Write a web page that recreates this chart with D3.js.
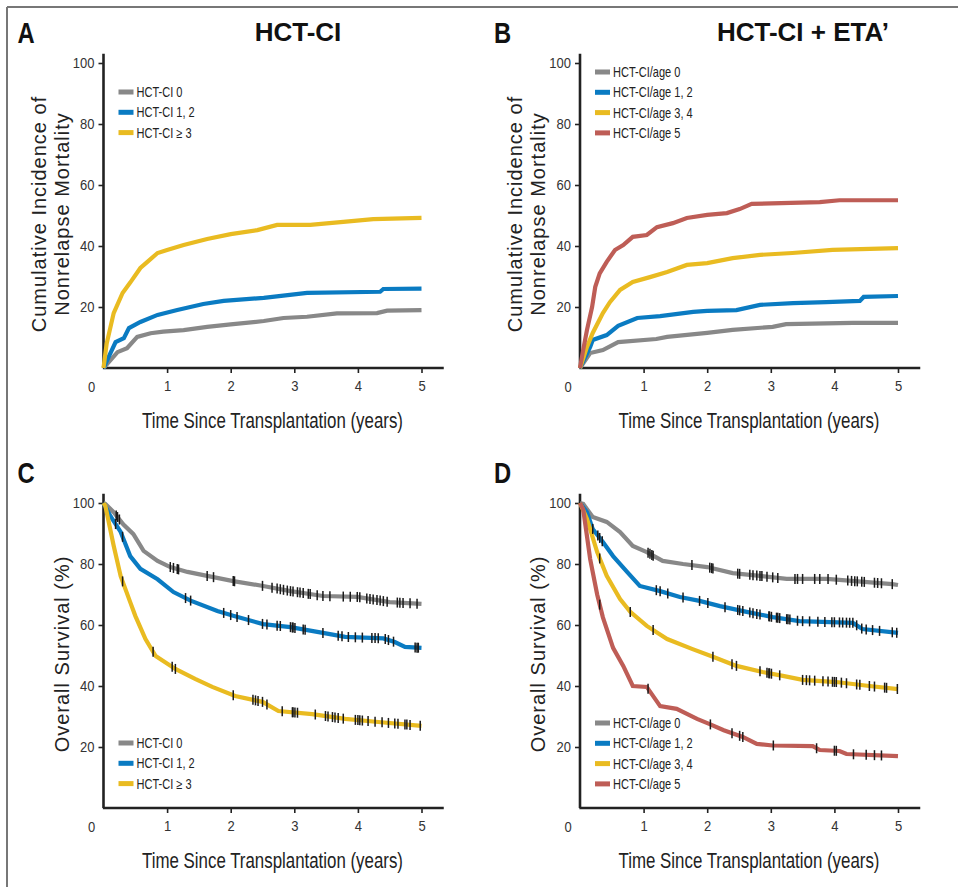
<!DOCTYPE html>
<html>
<head>
<meta charset="utf-8">
<script src="https://cdn.jsdelivr.net/npm/d3@7"></script>
<style>
body { margin: 0; background: #fff; }
svg { display: block; }
text { font-family: "Liberation Sans", Arial, Helvetica, sans-serif; }
</style>
</head>
<body>
<svg id="drawing_region"></svg>
<script>
// ---- data ----
const xTicks = [1, 2, 3, 4, 5];
const yTicks = [20, 40, 60, 80, 100];
const labelsCI = ["HCT-CI 0", "HCT-CI 1, 2", "HCT-CI \u2265 3"];
const labelsAge = ["HCT-CI/age 0", "HCT-CI/age 1, 2", "HCT-CI/age 3, 4", "HCT-CI/age 5"];
const colors = ["#888888", "#0a7bc2", "#e9bb21", "#be5d56"];

// [years, %] cumulative incidence of NRM, panel A
const nrmA0 = [[0,0],[0.11,2.6],[0.22,5.2],[0.37,6.5],[0.53,10.2],[0.74,11.4],[0.94,11.9],[1.26,12.4],[1.63,13.5],[2.0,14.3],[2.52,15.4],[2.83,16.4],[3.2,16.8],[3.67,17.9],[4.3,18.0],[4.46,18.8],[5.0,19.0]];
const nrmA12 = [[0,0],[0.08,3.6],[0.19,8.5],[0.32,9.8],[0.40,13.1],[0.58,15.1],[0.85,17.4],[1.16,19],[1.57,21],[1.89,22],[2.52,23],[2.93,24],[3.2,24.6],[4.35,25],[4.4,25.9],[5.0,26.0]];
const nrmA3 = [[0,0],[0.05,8],[0.16,18],[0.30,24.6],[0.42,28],[0.58,32.8],[0.69,34.8],[0.85,37.7],[1.0,38.7],[1.26,40.3],[1.63,42.3],[2.0,43.9],[2.42,45.2],[2.73,46.9],[3.25,46.9],[3.77,47.9],[4.24,48.8],[5.0,49.2]];

// panel B
const nrmB0 = [[0,0],[0.16,4.9],[0.36,5.9],[0.6,8.5],[1.2,9.5],[1.37,10.2],[2.0,11.5],[2.4,12.5],[3.03,13.5],[3.24,14.4],[4.29,14.8],[5.0,14.8]];
const nrmB12 = [[0,0],[0.16,6.9],[0.2,9.2],[0.42,10.8],[0.6,13.8],[0.9,16.4],[1.26,17.0],[1.78,18.4],[2.0,18.7],[2.46,19.0],[2.83,20.7],[3.35,21.3],[3.87,21.6],[4.4,22],[4.46,23.3],[5.0,23.6]];
const nrmB34 = [[0,0],[0.11,6.9],[0.2,11.5],[0.36,18],[0.47,21.6],[0.63,25.6],[0.83,28.2],[1.1,29.8],[1.37,31.5],[1.68,33.8],[2.0,34.4],[2.4,36],[2.83,37.1],[3.34,37.7],[3.97,38.7],[5.0,39.3]];
const nrmB5 = [[0,0],[0.05,5.9],[0.11,12.5],[0.19,20],[0.24,26.6],[0.31,31],[0.42,34.8],[0.55,38.7],[0.68,40.3],[0.83,43],[1.05,43.6],[1.21,46.2],[1.46,47.5],[1.68,49.2],[2.0,50.2],[2.31,50.8],[2.51,52.1],[2.7,53.8],[3.77,54.4],[4.08,55],[5.0,55]];

// overall survival, panel C
const osC0 = [[0,100],[0.03,99.7],[0.16,97],[0.31,93],[0.47,89.8],[0.63,84.3],[0.85,81],[1.05,79],[1.32,77.4],[1.63,76.1],[2.04,74.4],[2.51,72.8],[2.94,71.1],[3.45,69.5],[3.99,69.2],[4.5,67.5],[5.0,66.9]];
const osC12 = [[0,100],[0.11,95.7],[0.27,90.5],[0.42,82.6],[0.58,78.4],[0.85,75],[1.1,70.8],[1.37,68],[1.79,64.6],[2.04,63],[2.51,60.3],[2.94,59.3],[3.45,57.4],[3.8,56.1],[4.4,55.6],[4.58,54.4],[4.74,52.8],[5.0,52.5]];
const osC3 = [[0,100],[0.03,99],[0.16,86],[0.27,76],[0.42,67.5],[0.5,63],[0.66,55.4],[0.82,49.8],[1.13,45.6],[1.44,42.3],[1.71,39.7],[2.07,36.7],[2.5,34.8],[2.75,31.8],[3.28,30.8],[3.8,29.2],[4.32,28.2],[5.0,26.9]];

// panel D
const osD0 = [[0,100],[0.05,99.7],[0.2,95.4],[0.42,93.8],[0.63,90.5],[0.83,85.9],[1.05,83.9],[1.3,81],[1.62,80],[2.0,79],[2.4,77],[2.83,76.1],[3.25,75.1],[3.88,75.1],[4.91,73.4],[5.0,73.1]];
const osD12 = [[0,100],[0.11,97],[0.2,91.5],[0.36,87.2],[0.52,82.6],[0.74,77.4],[0.94,72.8],[1.26,71.1],[1.57,69.2],[1.88,67.9],[2.2,66.2],[2.62,64.3],[3.03,62.6],[3.45,61.3],[4.29,60.7],[4.44,58.7],[5.0,57.4]];
const osD34 = [[0,100],[0.11,94.8],[0.27,83.9],[0.42,76.1],[0.63,68.5],[0.79,64.3],[1.05,59.7],[1.37,55.4],[1.77,52.1],[2.09,49.6],[2.46,46.6],[2.87,44.6],[3.19,43.3],[3.5,42],[4.03,41.3],[4.55,40],[5.0,39]];
const osD5 = [[0,100],[0.05,98],[0.16,81.6],[0.27,70],[0.36,62.5],[0.52,52.5],[0.68,46.6],[0.83,40],[1.05,39.7],[1.26,33.4],[1.52,32.5],[1.84,29.2],[2.04,27.5],[2.26,25.5],[2.56,23.3],[2.78,21],[3.03,20.5],[3.66,20.3],[3.77,19],[4.08,18.7],[4.19,17.7],[5.0,17]];

// censoring times (years)
const censC0 = [0.2,0.22,0.25,1.05,1.1,1.16,1.18,1.63,1.73,2.04,2.06,2.5,2.65,2.73,2.78,2.83,2.89,2.94,2.98,3.05,3.09,3.14,3.22,3.25,3.36,3.45,3.56,3.77,3.88,3.99,4.03,4.14,4.19,4.24,4.3,4.35,4.4,4.46,4.62,4.66,4.71,4.82,4.93];
const censC12 = [0.19,0.3,1.29,1.37,1.89,2.0,2.1,2.28,2.5,2.57,2.73,2.78,2.94,2.97,2.98,3.01,3.14,3.17,3.45,3.69,3.75,3.85,3.96,4.07,4.22,4.27,4.32,4.43,4.48,4.56,4.9,4.93,4.95];
const censC3 = [0.3,0.78,1.08,1.13,2.04,2.35,2.39,2.43,2.5,2.57,2.81,2.97,2.98,3.01,3.05,3.33,3.49,3.53,3.6,3.64,3.69,3.77,3.96,4.0,4.03,4.07,4.16,4.27,4.38,4.48,4.58,4.63,4.74,4.77,4.82,4.98];
const censD0 = [1.07,1.1,1.13,1.15,1.76,2.04,2.07,2.09,2.48,2.51,2.67,2.72,2.78,2.83,2.86,2.94,3.03,3.11,3.38,3.42,3.5,3.69,3.77,3.9,4.03,4.21,4.27,4.32,4.36,4.43,4.47,4.63,4.68,4.74,4.91];
const censD12 = [0.2,0.28,0.31,0.35,1.2,1.26,1.38,1.62,1.88,2.01,2.28,2.48,2.51,2.56,2.67,2.72,2.78,2.83,2.97,2.98,3.01,3.09,3.11,3.14,3.25,3.27,3.3,3.42,3.5,3.61,3.74,3.85,3.96,4.0,4.08,4.13,4.19,4.24,4.29,4.35,4.43,4.5,4.6,4.71,4.91,4.98];
const censD34 = [0.31,0.79,1.15,2.09,2.39,2.46,2.83,2.94,2.97,2.98,3.01,3.14,3.5,3.56,3.61,3.69,3.82,3.9,3.97,4.0,4.03,4.11,4.19,4.35,4.4,4.55,4.63,4.79,4.82,4.99];
const censD5 = [0.31,1.07,2.05,2.39,2.51,2.56,3.04,3.72,4.0,4.03,4.3,4.5,4.63,4.74];

// no condensed face installed, so squeeze Liberation Sans horizontally
const NARROW = 0.78;

const svg = d3.select('#drawing_region')
    .attr('width', 958)
    .attr('height', 887);

// frame (top + left edges only)
svg.append('line').attr('x1', 7).attr('x2', 958).attr('y1', 7).attr('y2', 7)
    .attr('stroke', '#777').attr('stroke-width', 2);
svg.append('line').attr('x1', 7).attr('x2', 7).attr('y1', 7).attr('y2', 887)
    .attr('stroke', '#777').attr('stroke-width', 2);

function narrowText(parent, x, y, scale) {
    return parent.append('text')
        .attr('transform', `translate(${x}, ${y}) scale(${scale || NARROW}, 1)`);
}

class KMPanel {

    constructor( config, series, censors ) {
        this.config = config;
        this.series = series;
        this.censors = censors || [];
        this.init();
    }

    init() {
        let self = this;
        const c = self.config;

        self.chart = svg.append('g');

        self.xscale = d3.scaleLinear()
            .domain([0, 5])
            .range([c.left, c.left + 318]);

        self.yscale = d3.scaleLinear()
            .domain([0, 100])
            .range([c.bottom, c.bottom - 305]);

        self.line = d3.line()
            .x( d => self.xscale(d[0]) )
            .y( d => self.yscale(d[1]) );
    }

    render() {
        let self = this;
        const c = self.config;
        const x = self.xscale, y = self.yscale;

        // axes
        const xaxis = self.chart.append('g')
            .attr('transform', `translate(0, ${c.bottom})`)
            .call( d3.axisBottom(x).tickValues(xTicks).tickFormat(d3.format('d')).tickSize(5).tickPadding(7) );
        const yaxis = self.chart.append('g')
            .attr('transform', `translate(${c.left}, 0)`)
            .call( d3.axisLeft(y).tickValues(yTicks).tickFormat(d3.format('d')).tickSize(5).tickPadding(4) );

        [xaxis, yaxis].forEach( a => {
            a.select('.domain').remove();
            a.selectAll('.tick line').attr('stroke', '#222').attr('stroke-width', 1.6);
            a.selectAll('.tick text')
                .style('font-size', '15.5px')
                .attr('fill', '#333')
                .attr('transform', `scale(0.84, 1)`);
        });
        yaxis.selectAll('.tick text').attr('x', -9 / 0.84);

        self.chart.append('line')
            .attr('x1', x(-0.01)).attr('x2', x(5.35))
            .attr('y1', y(0)).attr('y2', y(0))
            .attr('stroke', '#222').attr('stroke-width', 2.6);
        self.chart.append('line')
            .attr('x1', x(0)).attr('x2', x(0))
            .attr('y1', y(0)).attr('y2', y(103))
            .attr('stroke', '#222').attr('stroke-width', 2.6);

        narrowText(self.chart, x(0) - 12, y(0) + 24, 0.84)
            .attr('text-anchor', 'middle')
            .style('font-size', '15.5px').attr('fill', '#333')
            .text('0');

        // curves
        self.chart.selectAll('.curve')
            .data( self.series )
            .enter()
            .append('path')
            .attr('class', 'curve')
            .attr('d', d => self.line(d.points))
            .attr('fill', 'none')
            .attr('stroke', d => d.color)
            .attr('stroke-width', 4.2);

        // censoring ticks
        self.censors.forEach( (times, i) => {
            const pts = self.series[i].points;
            const at = d3.scaleLinear().domain(pts.map(p => p[0])).range(pts.map(p => p[1]));
            self.chart.selectAll(null)
                .data( times )
                .enter()
                .append('line')
                .attr('x1', t => x(t)).attr('x2', t => x(t))
                .attr('y1', t => y(at(t)) - 5).attr('y2', t => y(at(t)) + 5)
                .attr('stroke', '#1a1a1a')
                .attr('stroke-width', 1.5);
        });

        // legend
        const legend = self.chart.selectAll('.legend')
            .data( self.series )
            .enter()
            .append('g')
            .attr('transform', (d, i) => `translate(${c.left + 15}, ${c.legendY + i * 20.3})`);
        legend.append('rect')
            .attr('x', 0).attr('y', -2.5)
            .attr('width', 15).attr('height', 5)
            .attr('fill', d => d.color);
        legend.append('text')
            .attr('transform', `translate(18, 0) scale(0.8, 1)`)
            .attr('dy', '0.36em')
            .style('font-size', '13.8px').attr('fill', '#222')
            .text(d => d.label);

        // axis titles
        const ty = self.chart.append('text')
            .attr('transform', `translate(${c.left - 35}, ${c.bottom - 154}) rotate(-90)`)
            .attr('text-anchor', 'middle')
            .style('font-size', '20px')
            .style('letter-spacing', '1px')
            .attr('fill', '#222');
        c.yTitle.forEach( (s, i) => {
            ty.append('tspan')
                .attr('x', 0)
                .attr('y', (i - c.yTitle.length + 1) * 23)
                .text(s);
        });

        narrowText(self.chart, x(0) + 169, c.bottom + 60, 0.75)
            .attr('text-anchor', 'middle')
            .style('font-size', '22.5px')
            .attr('fill', '#222')
            .text('Time Since Transplantation (years)');

        // panel letter and heading
        narrowText(self.chart, c.left - 86, c.bottom - 325, 0.82)
            .style('font-size', '29px').style('font-weight', 'bold')
            .attr('fill', '#111')
            .text(c.letter);

        if (c.title) {
            self.chart.append('text')
                .attr('x', c.titleX).attr('y', c.bottom - 327)
                .attr('text-anchor', 'middle')
                .style('font-size', '26px').style('font-weight', 'bold')
                .attr('fill', '#111')
                .text(c.title);
        }
    }
}

const mk = (pointsList, labels) => pointsList.map( (p, i) => ({ points: p, label: labels[i], color: colors[i] }) );

const panels = [
    new KMPanel({ left: 103.5, bottom: 368, legendY: 92, letter: 'A', title: 'HCT-CI', titleX: 298,
                  yTitle: ['Cumulative Incidence of', 'Nonrelapse Mortality'] },
                mk([nrmA0, nrmA12, nrmA3], labelsCI)),
    new KMPanel({ left: 580, bottom: 368, legendY: 72, letter: 'B', title: 'HCT-CI + ETA\u2019', titleX: 803,
                  yTitle: ['Cumulative Incidence of', 'Nonrelapse Mortality'] },
                mk([nrmB0, nrmB12, nrmB34, nrmB5], labelsAge)),
    new KMPanel({ left: 103.5, bottom: 808, legendY: 743, letter: 'C',
                  yTitle: ['Overall Survival (%)'] },
                mk([osC0, osC12, osC3], labelsCI), [censC0, censC12, censC3]),
    new KMPanel({ left: 580, bottom: 808, legendY: 723, letter: 'D',
                  yTitle: ['Overall Survival (%)'] },
                mk([osD0, osD12, osD34, osD5], labelsAge), [censD0, censD12, censD34, censD5])
];

panels.forEach( p => p.render() );
</script>
</body>
</html>
